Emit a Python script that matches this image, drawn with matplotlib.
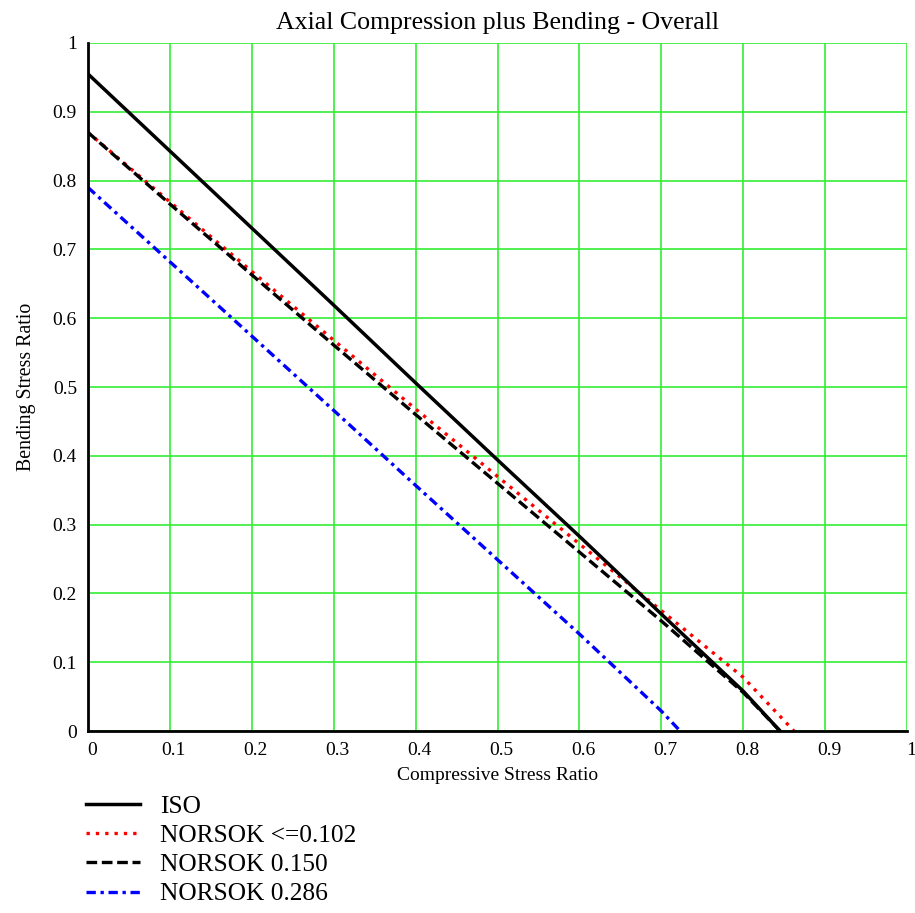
import numpy as np
import matplotlib
matplotlib.use('Agg')
import matplotlib.pyplot as plt
import matplotlib.transforms as mtrans

plt.rcParams['font.family'] = ['Liberation Serif', 'DejaVu Serif']

# curves
iso_x = [0, 0.1, 0.2, 0.3, 0.4, 0.5, 0.6, 0.7, 0.8, 0.845]
iso_y = [0.955, 0.843, 0.731, 0.619, 0.506, 0.394, 0.283, 0.170, 0.058, 0.0]

n102_x = [0, 0.1, 0.2, 0.3, 0.4, 0.5, 0.6, 0.7, 0.8, 0.862]
n102_y = [0.870, 0.769, 0.668, 0.568, 0.468, 0.370, 0.272, 0.175, 0.078, 0.0]

n150_x = [0, 0.1, 0.2, 0.3, 0.4, 0.5, 0.6, 0.7, 0.8, 0.845]
n150_y = [0.870, 0.766, 0.663, 0.561, 0.460, 0.360, 0.260, 0.160, 0.056, 0.0]

n286_x = [0, 0.1, 0.2, 0.3, 0.4, 0.5, 0.6, 0.7, 0.723]
n286_y = [0.790, 0.682, 0.574, 0.466, 0.357, 0.249, 0.141, 0.029, 0.0]

labels = ['ISO', 'NORSOK <=0.102', 'NORSOK 0.150', 'NORSOK 0.286']
ticks = np.round(np.arange(0, 1.01, 0.1), 1)
tick_labels = ['0', '0.1', '0.2', '0.3', '0.4', '0.5', '0.6', '0.7', '0.8', '0.9', '1']

fig = plt.figure(figsize=(9.15, 9.13), dpi=100)
ax = fig.add_axes([88/915, 182/913, 819/915, 688/913])

ax.plot(iso_x, iso_y, color='black', lw=2.5, label=labels[0], zorder=5)
ax.plot(n102_x, n102_y, color='red', lw=2.4, dashes=(1, 1.8), label=labels[1], zorder=4)
ax.plot(n150_x, n150_y, color='black', lw=2.4, dashes=(3.2, 1.4), label=labels[2], zorder=4)
ax.plot(n286_x, n286_y, color='blue', lw=2.4, dashes=(2.8, 1.4, 1, 1.4), label=labels[3], zorder=4)

ax.set_xlim(0, 1)
ax.set_ylim(0, 1)
ax.set_xticks(ticks)
ax.set_yticks(ticks)
ax.set_xticklabels(tick_labels)
ax.set_yticklabels(tick_labels)
ax.tick_params(length=0, labelsize=14)
ax.tick_params(axis='x', pad=8)
ax.tick_params(axis='y', pad=8)
for lab in ax.get_xticklabels():
    lab.set_transform(lab.get_transform() + mtrans.ScaledTranslation(4/100, 0, fig.dpi_scale_trans))

ax.grid(True, color='#33ee33', lw=1.2)
ax.set_axisbelow(True)
for s in ['top', 'right']:
    ax.spines[s].set_visible(False)
for s in ['left', 'bottom']:
    ax.spines[s].set_linewidth(2)
    ax.spines[s].set_zorder(6)

ax.set_title('Axial Compression plus Bending - Overall', fontsize=18.6, pad=10)
ax.set_xlabel('Compressive Stress Ratio', fontsize=14, labelpad=6)
ax.set_ylabel('Bending Stress Ratio', fontsize=14.3, labelpad=12)

ax.legend(loc='upper left', bbox_to_anchor=(76/915, 1 - 785/913), bbox_transform=fig.transFigure,
          frameon=False, fontsize=18.3, handlelength=2.1, handletextpad=0.8, labelspacing=0.25,
          borderaxespad=0)

fig.savefig('out.png', dpi=100)
